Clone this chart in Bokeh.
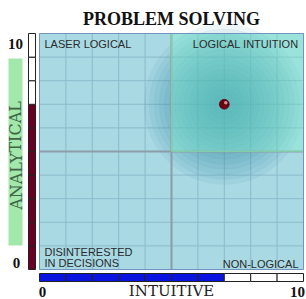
from bokeh.plotting import figure
from bokeh.models import Range1d
from bokeh.embed import file_html
from bokeh.resources import INLINE
from bokeh.core.properties import value

# ---- data ----
title_text = "PROBLEM SOLVING"
x_label = "INTUITIVE"
y_label = "ANALYTICAL"
quad_tl = "LASER LOGICAL"
quad_tr = "LOGICAL INTUITION"
quad_bl = "DISINTERESTED\nIN DECISIONS"
quad_br = "NON-LOGICAL"
analytical_score = 7
intuitive_score = 7
scale_min = 0
scale_max = 10
tick_min_label = "0"
tick_max_label = "10"
segments = list(range(scale_min, scale_max))

# ---- layout (pixels) ----
W, H = 306, 299
BL, BR, BT, BB = 39, 3, 33, 30
ppx = (W - BL - BR) / (scale_max - scale_min)
ppy = (H - BT - BB) / (scale_max - scale_min)


def sx(px):
    """data x for a canvas pixel column"""
    return scale_min + (px - BL) / ppx


def sy(py):
    """data y for a canvas pixel row (from top)"""
    return scale_min + (H - BB - py) / ppy


p = figure(width=W, height=H, output_backend="svg", toolbar_location=None,
           x_range=Range1d(sx(0), sx(W)), y_range=Range1d(sy(H), sy(0)),
           min_border=0)
p.axis.visible = False
p.grid.visible = False
p.outline_line_color = None
p.background_fill_color = "white"
p.border_fill_color = "white"

mid = (scale_min + scale_max) / 2

# plot box background
p.quad(left=[scale_min], right=[scale_max], bottom=[scale_min], top=[scale_max],
       fill_color="#A9D9E3", line_color=None)

# grid lines
inner = [v for v in range(scale_min + 1, scale_max) if v != mid]
p.segment(x0=inner, x1=inner, y0=[scale_min] * len(inner), y1=[scale_max] * len(inner),
          line_color="#8CBAC9", line_width=1)
p.segment(x0=[scale_min] * len(inner), x1=[scale_max] * len(inner), y0=inner, y1=inner,
          line_color="#8CBAC9", line_width=1)

# glow around the point
for i in range(16):
    r = 80 - i * 5
    p.circle(x=[intuitive_score], y=[analytical_score], radius=r, radius_units="screen",
             fill_color="#2A8AA4", fill_alpha=0.075, line_color="#2A8AA4", line_alpha=0.05)

# centre lines
p.segment(x0=[mid], x1=[mid], y0=[scale_min], y1=[scale_max], line_color="#8C9CA8", line_width=2)
p.segment(x0=[scale_min], x1=[scale_max], y0=[mid], y1=[mid], line_color="#8C9CA8", line_width=2)

# highlighted quadrant
p.quad(left=[mid], right=[scale_max], bottom=[mid], top=[scale_max],
       fill_color="#80F4CC", fill_alpha=0.36, line_color="#7CD9A0", line_alpha=0.8)

# plot box border
p.quad(left=[scale_min], right=[scale_max], bottom=[scale_min], top=[scale_max],
       fill_color=None, line_color="#7393C0", line_width=1)

# the point
p.circle(x=[intuitive_score], y=[analytical_score], radius=5, radius_units="screen",
         fill_color="#6A0012", line_color="#4A000A", line_width=0.5)
p.circle(x=[intuitive_score + 1.5 / ppx], y=[analytical_score + 1.5 / ppy], radius=1.8,
         radius_units="screen", fill_color="#F0B0B8", fill_alpha=0.8, line_color=None)

# left (analytical) bar
p.quad(left=[sx(28)] * len(segments), right=[sx(35)] * len(segments),
       bottom=segments, top=[s + 1 for s in segments],
       fill_color=["#6B0024" if s < analytical_score else "white" for s in segments],
       line_color="#222222", line_width=1)

# bottom (intuitive) bar
p.quad(left=segments, right=[s + 1 for s in segments],
       bottom=[sy(281)] * len(segments), top=[sy(273)] * len(segments),
       fill_color=["#0A14E0" if s < intuitive_score else "white" for s in segments],
       line_color="#222222", line_width=1)

# analytical label box
p.quad(left=[sx(8)], right=[sx(22)], bottom=[sy(245)], top=[sy(58)],
       fill_color="#A2E8AA", line_color=None)
p.text(x=[sx(15.5)], y=[sy(155)], text=[y_label],
       angle=1.5708, text_align="center", text_baseline="middle",
       text_font=value("DejaVu Serif"), text_font_size="16px", text_color="#3E6448")

serif = value("Liberation Serif")
bold_kw = dict(text_font=serif, text_font_size="15px", text_font_style="bold",
               text_color="#111111", text_align="center", text_baseline="middle")

# title
p.text(x=[(scale_min + scale_max) / 2], y=[sy(18)], text=[title_text],
       text_align="center", text_baseline="middle", text_font=serif,
       text_font_size="18px", text_font_style="bold", text_color="#111111")

# y ticks
p.text(x=[sx(15)], y=[sy(43)], text=[tick_max_label], **bold_kw)
p.text(x=[sx(16)], y=[sy(262)], text=[tick_min_label], **bold_kw)

# x ticks + label
p.text(x=[sx(42)], y=[sy(291)], text=[tick_min_label], **bold_kw)
p.text(x=[sx(297)], y=[sy(291)], text=[tick_max_label], **bold_kw)
p.text(x=[(scale_min + scale_max) / 2], y=[sy(290)], text=[x_label], text_align="center",
       text_baseline="middle", text_font=value("DejaVu Serif"), text_font_size="15px",
       text_color="#222222")

# quadrant labels
sans = value("Liberation Sans")
qc = "#2A2A2A"
qs = "11px"
p.text(x=[scale_min], y=[scale_max], text=[quad_tl], x_offset=[5], y_offset=[4],
       text_align="left", text_baseline="top", text_font=sans, text_font_size=qs, text_color=qc)
p.text(x=[scale_max], y=[scale_max], text=[quad_tr], x_offset=[-5], y_offset=[4],
       text_align="right", text_baseline="top", text_font=sans, text_font_size=qs, text_color=qc)
p.text(x=[scale_min], y=[scale_min], text=[quad_bl], x_offset=[5], y_offset=[0],
       text_align="left", text_baseline="bottom", text_font=sans, text_font_size=qs,
       text_color=qc, text_line_height=0.95)
p.text(x=[scale_max], y=[scale_min], text=[quad_br], x_offset=[-5], y_offset=[0],
       text_align="right", text_baseline="bottom", text_font=sans, text_font_size=qs, text_color=qc)

open("out.html", "w").write(file_html(p, INLINE))
